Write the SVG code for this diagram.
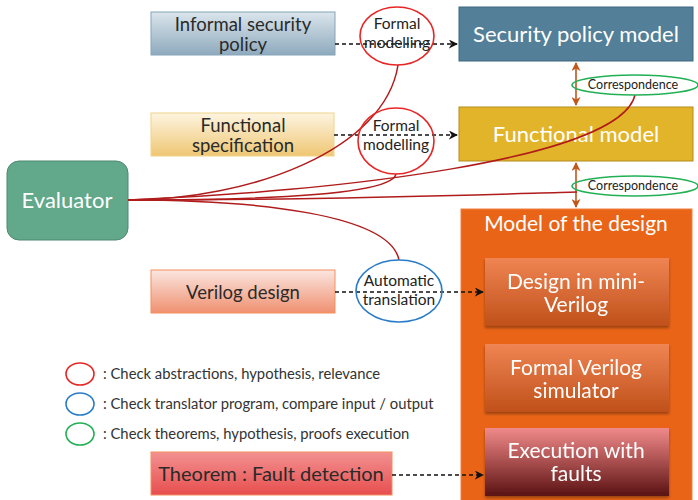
<svg xmlns="http://www.w3.org/2000/svg" width="698" height="500" viewBox="0 0 698 500">
  <defs>
    <linearGradient id="gBlue" x1="0" y1="0" x2="0" y2="1">
      <stop offset="0" stop-color="#dbe5ec"/>
      <stop offset="1" stop-color="#8eaabd"/>
    </linearGradient>
    <linearGradient id="gYellow" x1="0" y1="0" x2="0" y2="1">
      <stop offset="0" stop-color="#fdf4e0"/>
      <stop offset="1" stop-color="#efc774"/>
    </linearGradient>
    <linearGradient id="gSalmon" x1="0" y1="0" x2="0" y2="1">
      <stop offset="0" stop-color="#fbe6e0"/>
      <stop offset="1" stop-color="#ef9070"/>
    </linearGradient>
    <linearGradient id="gRed" x1="0" y1="0" x2="0" y2="1">
      <stop offset="0" stop-color="#f39191"/>
      <stop offset="1" stop-color="#e74e4e"/>
    </linearGradient>
    <linearGradient id="gInner" x1="0" y1="0" x2="0" y2="1">
      <stop offset="0" stop-color="#ef8553"/>
      <stop offset="1" stop-color="#c0501a"/>
    </linearGradient>
    <linearGradient id="gFault" x1="0" y1="0" x2="0" y2="1">
      <stop offset="0" stop-color="#f08a8a"/>
      <stop offset="0.45" stop-color="#b05454"/>
      <stop offset="1" stop-color="#5a1212"/>
    </linearGradient>
    <filter id="shadow" x="-10%" y="-10%" width="120%" height="130%">
      <feDropShadow dx="0" dy="2" stdDeviation="1.5" flood-color="#000" flood-opacity="0.35"/>
    </filter>
    <marker id="arrowBlack" viewBox="0 0 10 10" refX="9" refY="5" markerWidth="9" markerHeight="9" markerUnits="userSpaceOnUse" orient="auto">
      <path d="M0,0 L10,5 L0,10 L3,5 Z" fill="#111"/>
    </marker>
    <marker id="arrowOrange" viewBox="0 0 10 10" refX="9" refY="5" markerWidth="9" markerHeight="9" markerUnits="userSpaceOnUse" orient="auto-start-reverse">
      <path d="M0,0 L10,5 L0,10 L3,5 Z" fill="#c0561a"/>
    </marker>
  </defs>
  <style>
    text { font-family: "Lato", "Noto Sans", sans-serif; text-anchor: middle; }
    .dark { fill: #2a2a2a; }
    .light { fill: #ffffff; }
    .box17 { font-size: 18.5px; }
    .big { font-size: 22px; }
    .mid { font-size: 21px; }
    .bubble { font-size: 15.5px; fill: #222; }
    .corr { font-size: 12.5px; fill: #222; }
    .legend { font-size: 14.8px; fill: #333; text-anchor: start; }
    .dash { stroke: #111; stroke-width: 1.6; stroke-dasharray: 4 3; fill: none; marker-end: url(#arrowBlack); }
    .dbl { stroke: #c0561a; stroke-width: 1.6; fill: none; marker-start: url(#arrowOrange); marker-end: url(#arrowOrange); }
    .link { stroke: #b01c1c; stroke-width: 1.5; fill: none; }
    .ovRed { fill: none; stroke: #e82525; stroke-width: 1.6; }
    .ovBlue { fill: none; stroke: #2a7cc7; stroke-width: 1.6; }
    .ovGreen { fill: none; stroke: #22b055; stroke-width: 1.6; }
  </style>

  <!-- model container -->
  <g id="model-of-design">
    <rect x="461" y="209" width="231" height="295" fill="#e96417" stroke="#f08040" stroke-width="1"/>
    <text class="light mid" x="576" y="231">Model of the design</text>
  </g>

  <g id="design-mini-verilog" filter="url(#shadow)">
    <rect x="485" y="258" width="184" height="68" fill="url(#gInner)"/>
    <text class="light mid" x="576" y="289">Design in mini-</text>
    <text class="light mid" x="576" y="312">Verilog</text>
  </g>

  <g id="formal-verilog-simulator" filter="url(#shadow)">
    <rect x="485" y="344" width="184" height="68" fill="url(#gInner)"/>
    <text class="light mid" x="576" y="375">Formal Verilog</text>
    <text class="light mid" x="576" y="398">simulator</text>
  </g>

  <g id="execution-with-faults" filter="url(#shadow)">
    <rect x="485" y="428" width="184" height="68" fill="url(#gFault)"/>
    <text class="light mid" x="576" y="458">Execution with</text>
    <text class="light mid" x="576" y="481">faults</text>
  </g>

  <!-- source documents -->
  <g id="informal-security-policy">
    <rect x="151" y="12" width="184" height="43" fill="url(#gBlue)" stroke="#86a5b9" stroke-width="1"/>
    <text class="dark box17" x="243" y="31">Informal security</text>
    <text class="dark box17" x="243" y="51">policy</text>
  </g>

  <g id="functional-specification">
    <rect x="151" y="113" width="183" height="43" fill="url(#gYellow)" stroke="#f1d48c" stroke-width="1"/>
    <text class="dark box17" x="243" y="132">Functional</text>
    <text class="dark box17" x="243" y="152">specification</text>
  </g>

  <g id="verilog-design">
    <rect x="151" y="270" width="184" height="43" fill="url(#gSalmon)" stroke="#f4905c" stroke-width="1"/>
    <text class="dark box17" x="243" y="299">Verilog design</text>
  </g>

  <g id="theorem-fault-detection">
    <rect x="151" y="452" width="241" height="43" fill="url(#gRed)" stroke="#f4905c" stroke-width="1"/>
    <text class="dark" x="271" y="481" font-size="20">Theorem : Fault detection</text>
  </g>

  <!-- formal models -->
  <g id="security-policy-model">
    <rect x="459" y="7" width="234" height="54" fill="#537f98" stroke="#3f6780" stroke-width="1"/>
    <text class="light big" x="576" y="42">Security policy model</text>
  </g>

  <g id="functional-model">
    <rect x="459" y="107" width="234" height="54" fill="#e2b42a" stroke="#b58c1a" stroke-width="1"/>
    <text class="light big" x="576" y="142">Functional model</text>
  </g>

  <g id="evaluator">
    <rect x="7" y="161" width="121" height="79" rx="12" ry="12" fill="#62a88a" stroke="#4d8a70" stroke-width="1"/>
    <text class="light" x="67" y="208" font-size="22">Evaluator</text>
  </g>

  <!-- connectors -->
  <g id="connectors">
    <line class="dash" x1="335" y1="44" x2="457" y2="44"/>
    <line class="dash" x1="334" y1="135" x2="457" y2="135"/>
    <line class="dash" x1="335" y1="292" x2="483" y2="292"/>
    <line class="dash" x1="392" y1="475" x2="483" y2="475"/>
    <line class="dbl" x1="576" y1="63" x2="576" y2="105"/>
    <line class="dbl" x1="576" y1="163" x2="576" y2="207"/>
    <path class="link" d="M128,200 C250,200 385,150 398,65"/>
    <path class="link" d="M128,200 C260,200 392,195 396,174"/>
    <path class="link" d="M128,200 C330,192 620,160 635,95"/>
    <path class="link" d="M128,200 C330,200 500,194 577,192"/>
    <path class="link" d="M128,200 C260,200 390,215 399,260"/>
  </g>

  <!-- review bubbles -->
  <g id="formal-modelling-1">
    <ellipse class="ovRed" cx="397" cy="36" rx="37" ry="29"/>
    <text class="bubble" x="397" y="29">Formal</text>
    <text class="bubble" x="397" y="48">modelling</text>
  </g>

  <g id="formal-modelling-2">
    <ellipse class="ovRed" cx="396" cy="141" rx="38" ry="33"/>
    <text class="bubble" x="396" y="131">Formal</text>
    <text class="bubble" x="396" y="150">modelling</text>
  </g>

  <g id="automatic-translation">
    <ellipse class="ovBlue" cx="399" cy="291" rx="43" ry="31"/>
    <text class="bubble" x="399" y="286">Automatic</text>
    <text class="bubble" x="399" y="305">translation</text>
  </g>

  <g id="correspondence-1">
    <ellipse class="ovGreen" cx="635" cy="85" rx="63" ry="10"/>
    <text class="corr" x="633" y="89">Correspondence</text>
  </g>

  <g id="correspondence-2">
    <ellipse class="ovGreen" cx="635" cy="186" rx="63" ry="10"/>
    <text class="corr" x="633" y="190">Correspondence</text>
  </g>

  <!-- legend -->
  <g id="legend">
    <ellipse class="ovRed" cx="80" cy="374" rx="14" ry="11"/>
    <text class="legend" x="103" y="379">: Check abstractions, hypothesis, relevance</text>
    <ellipse class="ovBlue" cx="80" cy="404" rx="14" ry="11"/>
    <text class="legend" x="103" y="409">: Check translator program, compare input / output</text>
    <ellipse class="ovGreen" cx="80" cy="434" rx="14" ry="11"/>
    <text class="legend" x="103" y="439">: Check theorems, hypothesis, proofs execution</text>
  </g>
</svg>
